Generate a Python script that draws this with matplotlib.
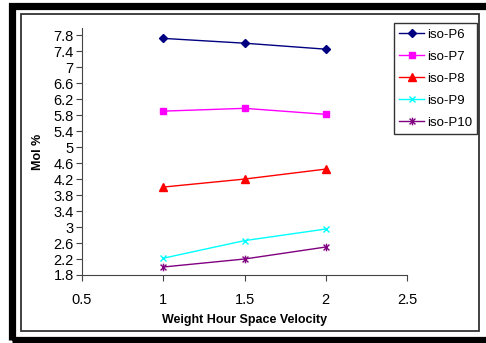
import numpy as np
import matplotlib.pyplot as plt
from matplotlib.path import Path
from matplotlib.patches import Rectangle

plt.rcParams['font.family'] = ['Liberation Sans', 'DejaVu Sans']

# Données
whsv = [1, 1.5, 2]
iso_p6 = [7.72, 7.60, 7.45]
iso_p7 = [5.90, 5.97, 5.82]
iso_p8 = [4.00, 4.20, 4.45]
iso_p9 = [2.22, 2.66, 2.95]
iso_p10 = [2.00, 2.20, 2.50]
series_names = ['iso-P6', 'iso-P7', 'iso-P8', 'iso-P9', 'iso-P10']
yticks = np.arange(1.8, 7.81, 0.4)
xticks = [0.5, 1, 1.5, 2, 2.5]

# marqueur étoile façon Excel (x + trait vertical)
star = Path([(-1, -1), (1, 1), (-1, 1), (1, -1), (0, -1.3), (0, 1.3)],
            [Path.MOVETO, Path.LINETO, Path.MOVETO, Path.LINETO, Path.MOVETO, Path.LINETO])

styles = [
    dict(color='#000080', marker='D', ms=4.5),
    dict(color='#FF00FF', marker='s', ms=4.5),
    dict(color='#FF0000', marker='^', ms=5.5),
    dict(color='#00FFFF', marker='x', ms=5, mew=1),
    dict(color='#800080', marker=star, ms=5.5, mew=1),
]

fig = plt.figure(figsize=(4.86, 3.43), dpi=100)
W, H = 486, 343

# cadre extérieur noir + cadre intérieur fin
fig.patches.append(Rectangle((11.5 / W, 1 - 339.5 / H), 1.2, (339.5 - 5.5) / H,
                             transform=fig.transFigure, fill=False,
                             ec='black', lw=5.2, zorder=0))
fig.patches.append(Rectangle((21 / W, 1 - 331 / H), (479 - 21) / W, (331 - 14) / H,
                             transform=fig.transFigure, fill=False,
                             ec='#333333', lw=1.3, zorder=0))

ax = fig.add_axes([82 / W, 1 - 275 / H, (407 - 82) / W, (275 - 28) / H])
for y, name, st in zip([iso_p6, iso_p7, iso_p8, iso_p9, iso_p10], series_names, styles):
    ax.plot(whsv, y, lw=1, label=name, **st)

ax.set_xlim(0.5, 2.5)
ax.set_ylim(1.8, 7.98)
ax.set_xticks(xticks)
ax.set_xticklabels(['0.5', '1', '1.5', '2', '2.5'])
ax.set_yticks(yticks)
ax.set_yticklabels([f'{v:g}' for v in np.round(yticks, 1)])
ax.tick_params(labelsize=10.5, direction='out', length=4, color='#444444', pad=2)
ax.tick_params(axis='x', pad=9)
for s in ['top', 'right']:
    ax.spines[s].set_visible(False)
for s in ['left', 'bottom']:
    ax.spines[s].set_color('#444444')

ax.set_xlabel('Weight Hour Space Velocity', fontsize=9, fontweight='bold', labelpad=5)
ax.set_ylabel('Mol %', fontsize=9, fontweight='bold', labelpad=7)

leg = fig.legend(loc='upper left', bbox_to_anchor=(394 / W, 1 - 23 / H),
                 fontsize=9.5, frameon=True, fancybox=False, edgecolor='black',
                 handlelength=1.9, handletextpad=0.2, labelspacing=0.75,
                 borderpad=0.4, borderaxespad=0)
leg.get_frame().set_linewidth(1)

plt.savefig('out.png', dpi=100)
